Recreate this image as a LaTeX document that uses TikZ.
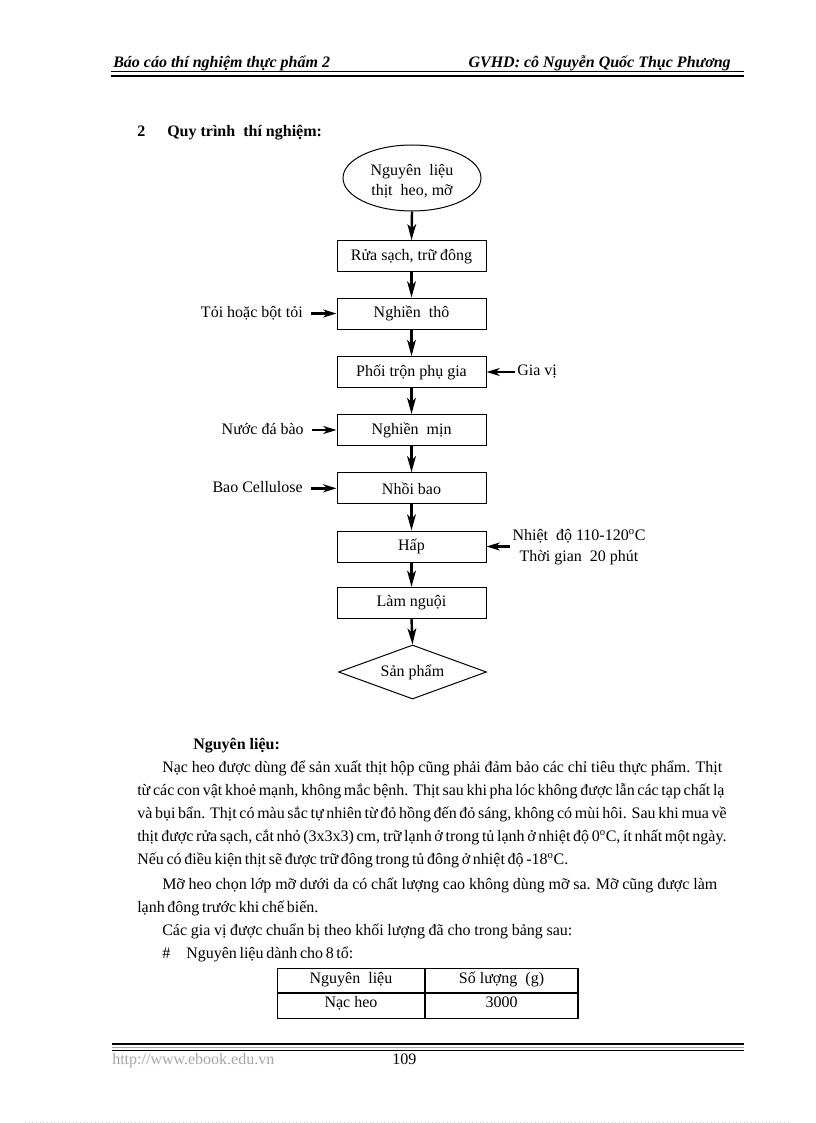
\documentclass[tikz,border=0pt]{standalone}
\usepackage{fontspec}
\setmainfont{Liberation Serif}
\usetikzlibrary{shapes.geometric,arrows.meta,calc}
\newcommand{\jline}[2]{\makebox[#1][s]{#2}}
\newcommand{\dg}{\textsuperscript{o}}
\begin{document}
\begin{tikzpicture}[x=0.75pt,y=-0.75pt,
  every node/.style={inner sep=0pt, font=\fontsize{12}{14}\selectfont},
  box/.style={draw, line width=0.75pt, minimum width=111.75pt, minimum height=23.25pt},
  flow/.style={line width=1.8pt, -{Stealth[length=12pt,width=6.5pt,inset=3pt]}},
  side/.style={line width=1.8pt, -{Stealth[length=10pt,width=6pt,inset=3pt]}},
  body/.style={anchor=base west},
  hdr/.style={font=\fontsize{12}{14}\selectfont\bfseries\itshape},
  bold/.style={font=\fontsize{12}{14}\selectfont\bfseries},
]
\useasboundingbox (0,0) rectangle (816,1123);

% header
\node[hdr, anchor=base west] (hl) at (113,68) {Báo cáo thí nghiệm thực phẩm 2};
\node[hdr, anchor=base east] (hr) at (731,68) {GVHD: cô Nguyễn Quốc Thục Phương};
\draw[line width=0.9pt] (111,71.8) -- (744,71.8);
\draw[line width=1.8pt] (111,76.2) -- (744,76.2);

% section title
\node[bold, anchor=base west] (sn) at (137,137) {2};
\node[bold, anchor=base west] (st) at (167,137) {Quy trình\ \ thí nghiệm:};

% flowchart
\node[ellipse, draw, line width=0.75pt, minimum width=103.5pt, minimum height=49.5pt,
      align=center, font=\fontsize{12}{15}\selectfont, text height=27pt, text depth=0pt] (e) at (412,178) {Nguyên\ \ liệu\\thịt\ \ heo, mỡ};
\node[box] (b1) at (411.5,256.2) {Rửa sạch, trữ đông};
\node[box] (b2) at (411.5,313.5) {Nghiền\ \ thô};
\node[box] (b3) at (411.5,372) {Phối trộn phụ gia};
\node[box] (b4) at (411.5,430) {Nghiền\ \ mịn};
\node[box] (b5) at (411.5,488.3) {Nhồi bao};
\node[box] (b6) at (411.5,546.5) {Hấp};
\node[box] (b7) at (411.5,602.8) {Làm nguội};
\node[diamond, draw, line width=0.75pt, aspect=2.74, minimum width=111pt, minimum height=40.5pt] (d) at (412.5,672) {Sản phẩm};

\draw[flow] (e.south) -- (b1.north);
\draw[flow] (b1) -- (b2);
\draw[flow] (b2) -- (b3);
\draw[flow] (b3) -- (b4);
\draw[flow] (b4) -- (b5);
\draw[flow] (b5) -- (b6);
\draw[flow] (b6) -- (b7);
\draw[flow] (b7.south) -- (d.north);

% side inputs
\node[anchor=base east] (l1) at (303,317) {Tỏi hoặc bột tỏi};
\node[anchor=base west] (l2) at (517,375) {Gia vị};
\node[anchor=base east] (l3) at (304,434) {Nước đá bào};
\node[anchor=base east] (l4) at (303,492) {Bao Cellulose};
\node[align=center, font=\fontsize{12}{15.75}\selectfont] (l5) at (579,547) {Nhiệt\ \ độ 110-120\dg C\\Thời gian\ \ 20 phút};

\draw[side, shorten <=6pt] (l1.east |- b2.west) -- (b2.west);
\draw[side, shorten <=1.5pt] (l2.west |- b3.east) -- (b3.east);
\draw[side, shorten <=6pt] (l3.east |- b4.west) -- (b4.west);
\draw[side, shorten <=6pt] (l4.east |- b5.west) -- (b5.west);
\draw[side, shorten <=2pt] (l5.west |- b6.east) -- (b6.east);

% body text
\node[bold, anchor=base west] (nl) at (193,749) {Nguyên liệu:};
\node[body] (p1) at (162,772) {\jline{420pt}{Nạc heo được dùng để sản xuất thịt hộp cũng phải đảm bảo các chỉ tiêu thực phẩm. Thịt}};
\node[body] (p2) at (137,795) {\jline{384.75pt}{từ các con vật khoẻ mạnh, không mắc bệnh. Thịt sau khi pha lóc không được lẫn các tạp chất lạ}};
\node[body] (p3) at (137,818) {\jline{373.5pt}{và bụi bẩn. Thịt có màu sắc tự nhiên từ đỏ hồng đến đỏ sáng, không có mùi hôi. Sau khi mua về}};
\node[body] (p4) at (137,841) {\jline{440.25pt}{thịt được rửa sạch, cắt nhỏ (3x3x3) cm, trữ lạnh ở trong tủ lạnh ở nhiệt độ 0\dg C, ít nhất một ngày.}};
\node[body] (p5) at (137,864) {\jline{323.25pt}{Nếu có điều kiện thịt sẽ được trữ đông trong tủ đông ở nhiệt độ -18\dg C.}};
\node[body] (p6) at (162,889) {\jline{416.25pt}{Mỡ heo chọn lớp mỡ dưới da có chất lượng cao không dùng mỡ sa. Mỡ cũng được làm}};
\node[body] (p7) at (137,912) {\jline{122.25pt}{lạnh đông trước khi chế biến.}};
\node[body] (p8) at (162,935) {\jline{307.5pt}{Các gia vị được chuẩn bị theo khối lượng đã cho trong bảng sau:}};
\node[body] (p9h) at (162,958) {\#};
\node[body] (p9) at (186,958) {\jline{100.5pt}{Nguyên liệu dành cho 8 tổ:}};

% table
\draw[line width=0.75pt] (277,968) rectangle (578,1018);
\draw[line width=1.6pt] (425,968) -- (425,1018);
\draw[line width=1.6pt] (578,968) -- (578,1018);
\draw[line width=1.6pt] (277,993) -- (578,993);
\node[anchor=base] (t11) at (351,983) {Nguyên\ \ liệu};
\node[anchor=base] (t12) at (501.5,983) {Số lượng\ \ (g)};
\node[anchor=base] (t21) at (351,1007) {Nạc heo};
\node[anchor=base] (t22) at (501.5,1007) {3000};

% footer
\draw[line width=1.6pt] (112,1044.3) -- (744,1044.3);
\draw[line width=1pt, gray!70] (112,1047.7) -- (744,1047.7);
\draw[line width=0.8pt] (112,1050.3) -- (744,1050.3);
\node[anchor=base west, text=gray!70] (url) at (112,1064) {http://www.ebook.edu.vn};
\node[anchor=base west] (pg) at (392,1064) {109};
\draw[gray!35, dotted, line width=0.75pt] (25,1122) -- (791,1122);
\end{tikzpicture}
\end{document}
